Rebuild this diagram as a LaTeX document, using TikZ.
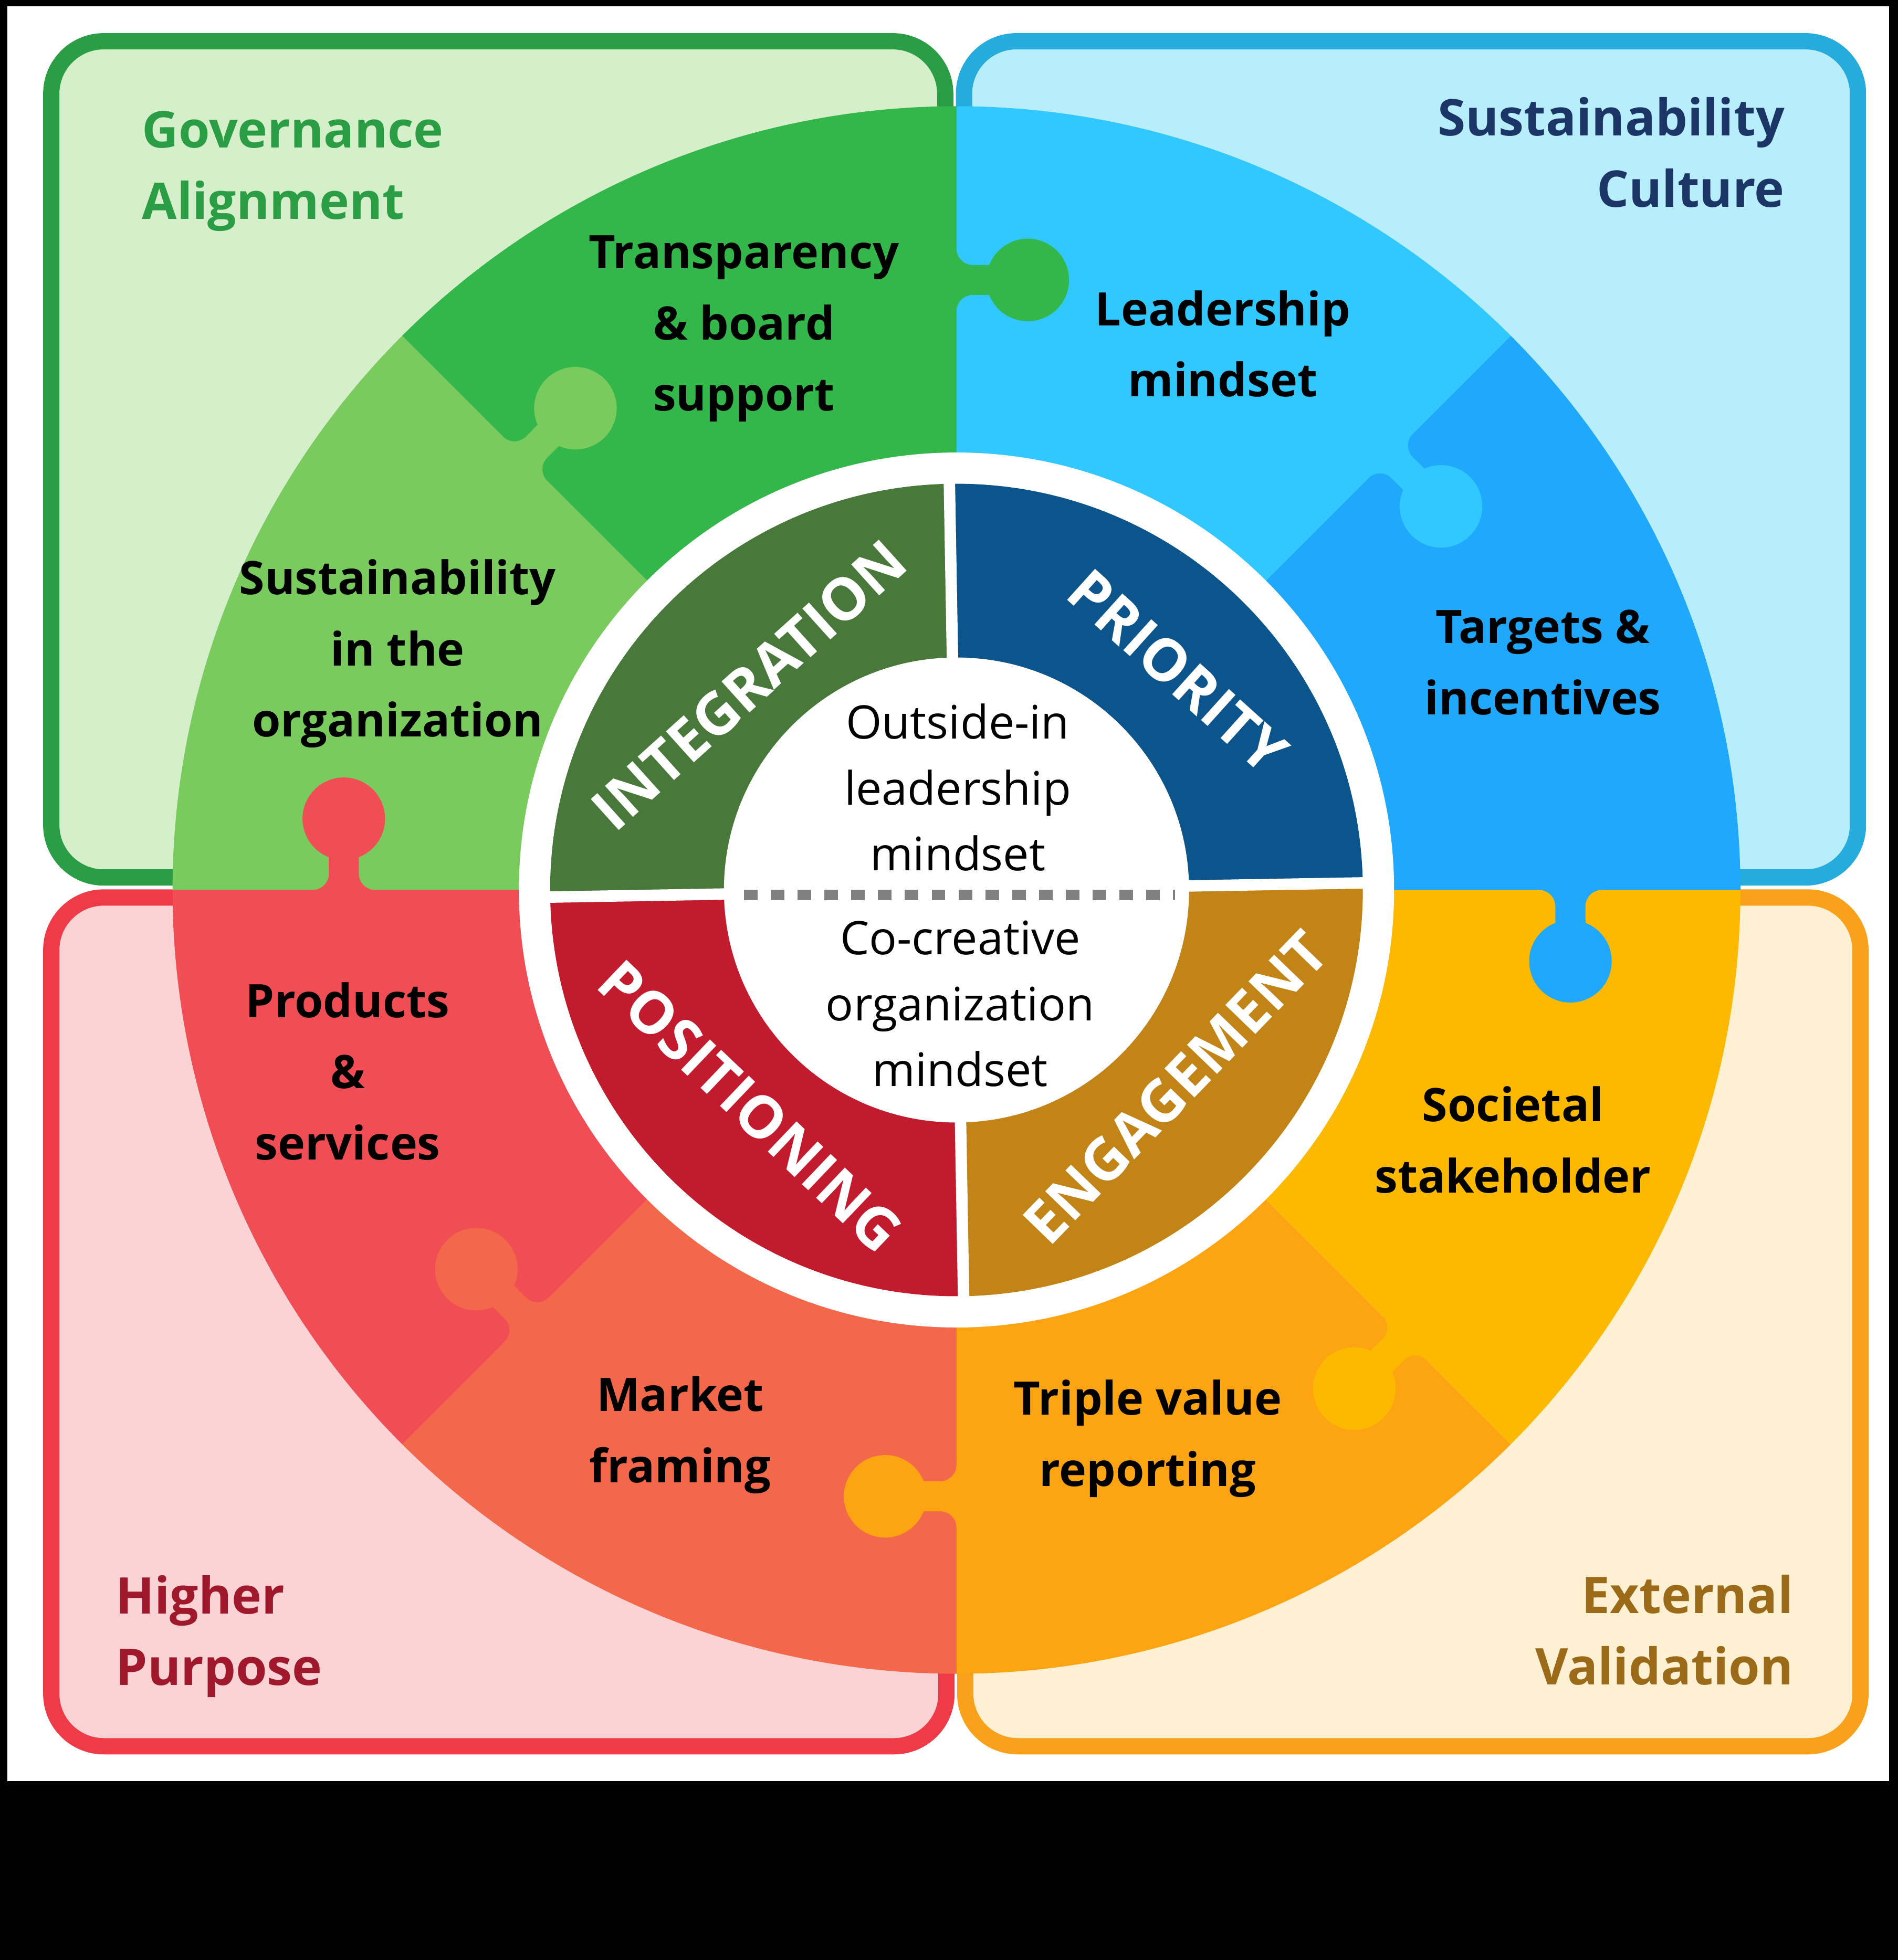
\documentclass[tikz,border=0pt]{standalone}
\usepackage{fontspec}
\setmainfont{Open Sans}

\definecolor{govline}{HTML}{2B9D45}
\definecolor{govfill}{HTML}{D5EFCB}
\definecolor{culline}{HTML}{26ACDC}
\definecolor{culfill}{HTML}{B8EEFC}
\definecolor{purline}{HTML}{EF3B48}
\definecolor{purfill}{HTML}{FBD3D5}
\definecolor{valline}{HTML}{FAA11B}
\definecolor{valfill}{HTML}{FEF0D2}
\definecolor{cultext}{HTML}{1B3567}
\definecolor{purtext}{HTML}{A0182B}
\definecolor{valtext}{HTML}{9A6A18}
\definecolor{transp}{HTML}{34B74A}
\definecolor{orggreen}{HTML}{7ACB5E}
\definecolor{leader}{HTML}{30C8FE}
\definecolor{targetblue}{HTML}{20A8FD}
\definecolor{societal}{HTML}{FCB900}
\definecolor{triple}{HTML}{FCA412}
\definecolor{market}{HTML}{F3674A}
\definecolor{products}{HTML}{F04D55}
\definecolor{integ}{HTML}{49783B}
\definecolor{prio}{HTML}{0B548C}
\definecolor{engage}{HTML}{C28416}
\definecolor{posit}{HTML}{C21B2E}
\definecolor{dotgray}{HTML}{808080}

\newcommand{\piecefont}{\fontsize{10.5}{16.2}\selectfont\bfseries}
\newcommand{\quadfont}{\fontsize{11.5}{16.2}\selectfont\bfseries}
\newcommand{\midfont}{\fontsize{10.5}{15}\selectfont}
\newcommand{\ringfont}{\fontsize{13.3}{13.3}\selectfont\bfseries}

\begin{document}
\begin{tikzpicture}[x=0.01cm, y=0.01cm]
    \tikzstyle{frame}=[line width=3.7pt, rounded corners=0.42cm]
    \tikzstyle{piece}=[font=\piecefont, align=center, inner sep=0pt]
    \tikzstyle{quad}=[font=\quadfont, inner sep=0pt]
    \tikzstyle{mid}=[font=\midfont, align=center, inner sep=0pt]
    \tikzstyle{ringcap}=[font=\ringfont, text=white, inner sep=0pt]
    \tikzstyle{gap}=[white, line width=2.6pt]
    \tikzstyle{dots}=[draw=dotgray, line width=2.3pt, dash pattern=on 3.1pt off 3pt]

    \useasboundingbox (0,0) rectangle (1518,1568);
    \fill[black] (0,0) rectangle (1518,1568);
    \fill[white] (6,143) rectangle (1511,1563);

    % four frames
    \draw[frame, draw=govline, fill=govfill] (41,866) rectangle (756,1535);
    \draw[frame, draw=culline, fill=culfill] (771,866) rectangle (1486,1535);
    \draw[frame, draw=purline, fill=purfill] (41,171) rectangle (757,850);
    \draw[frame, draw=valline, fill=valfill] (772,171) rectangle (1488,850);

    \coordinate (c) at (765,856);

    % puzzle ring
    \foreach \a/\col in {90/transp, 135/orggreen, 180/products, 225/market, 270/triple, 315/societal, 0/targetblue, 45/leader}
      \fill[\col] (c) -- ++(\a:627) arc[start angle=\a, delta angle=45, radius=627] -- cycle;

    % knobs
    \foreach \a/\r/\col in {90/488/transp, 135/488/orggreen, 180/490/products, 45/491/leader, 0/491/targetblue, -45/507/societal, -90/485/triple, -135/486/market}
    {
      \begin{scope}[shift={(c)}, rotate=\a, shift={(\r,0)}, rotate=-90]
        \fill[\col] (-3,-25) -- (0,-25) arc[start angle=180, end angle=90, radius=13] -- (26.3,-12)
          arc[start angle=-158.6, end angle=158.6, radius=33] -- (13,12)
          arc[start angle=270, end angle=180, radius=13] -- (-3,25) -- cycle;
      \end{scope}
    }

    % inner ring
    \fill[white] (c) circle[radius=350];
    \begin{scope}[shift={(c)}, rotate=1]
      \fill[integ] (0,0) -- (90:325) arc[start angle=90, end angle=180, radius=325] -- cycle;
      \fill[prio] (0,0) -- (0:325) arc[start angle=0, end angle=90, radius=325] -- cycle;
      \fill[engage] (0,0) -- (-90:325) arc[start angle=-90, end angle=0, radius=325] -- cycle;
      \fill[posit] (0,0) -- (180:325) arc[start angle=180, end angle=270, radius=325] -- cycle;
      \draw[gap] (-330,0) -- (330,0) (0,-330) -- (0,330);
    \end{scope}
    \fill[white] (c) circle[radius=186];
    \draw[dots] (595,852) -- (940,852);

    \node[ringcap, rotate=42] (integration) at (599,1020) {INTEGRATION};
    \node[ringcap, rotate=-42] (priority) at (942,1031) {PRIORITY};
    \node[ringcap, rotate=46] (engagement) at (940,698) {ENGAGEMENT};
    \node[ringcap, rotate=-43.6] (positioning) at (600,683) {POSITIONING};

    \node[mid] (outsidein) at (766,938) {Outside-in\\leadership\\mindset};
    \node[mid] (cocreative) at (768,765) {Co-creative\\organization\\mindset};

    \node[piece] (transparency) at (595,1305) {Transparency\\\& board\\support};
    \node[piece] (leadership) at (978,1293) {Leadership\\mindset};
    \node[piece] (sustorg) at (318,1045) {Sustainability\\in the\\organization};
    \node[piece] (incentives) at (1234,1038) {Targets \&\\incentives};
    \node[piece] (services) at (278,711) {Products\\\&\\services};
    \node[piece] (stakeholder) at (1210,656) {Societal\\stakeholder};
    \node[piece] (framing) at (544,420) {Market\\framing};
    \node[piece] (reporting) at (918,417) {Triple value\\reporting};

    \node[quad, text=govline, anchor=west, align=left] (governance) at (113,1431) {Governance\\Alignment};
    \node[quad, text=cultext, anchor=east, align=right] (culture) at (1428,1446) {Sustainability\\Culture};
    \node[quad, text=purtext, anchor=west, align=left] (purpose) at (92,259) {Higher\\Purpose};
    \node[quad, text=valtext, anchor=east, align=right] (validation) at (1435,264) {External\\Validation};
\end{tikzpicture}
\end{document}
